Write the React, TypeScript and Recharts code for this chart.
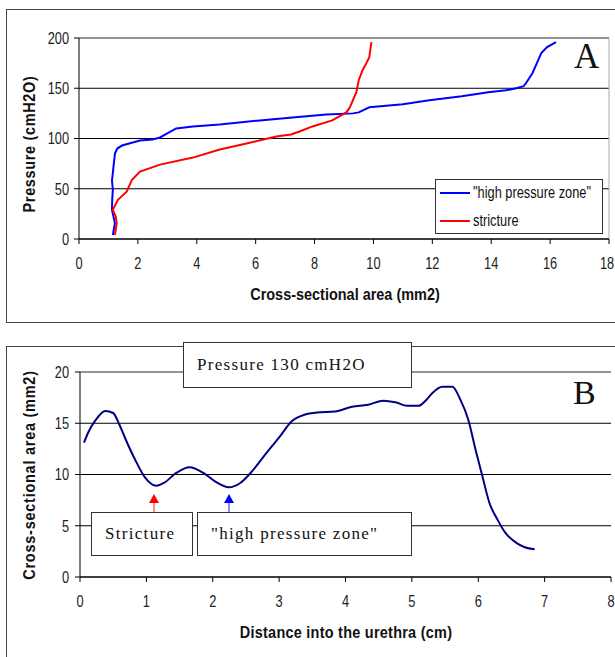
import { LineChart, Line, XAxis, YAxis, CartesianGrid, ReferenceLine } from "recharts";

// Panel A: pressure vs cross-sectional area
const hpzArea = [1.15, 1.22, 1.12, 1.13, 1.15, 1.12, 1.15, 1.22, 1.3, 1.46, 2.07, 2.5, 2.75, 3.0, 3.3, 3.87, 4.78, 6.14, 7.25, 8.4, 9.3, 9.5, 9.86, 11.0, 11.9, 13.0, 13.9, 14.5, 14.85, 15.1, 15.2, 15.4, 15.55, 15.7, 15.9, 16.2];
const hpzPressure = [4, 16, 29, 40, 49, 58, 66, 85, 90, 93, 98, 99, 101, 105, 110, 112, 114, 118, 121, 124, 125, 126, 131, 134, 138, 142, 146, 148, 150, 152, 156, 165, 175, 185, 191, 196];

const strictArea = [1.22, 1.28, 1.25, 1.15, 1.32, 1.62, 1.8, 2.07, 2.75, 3.87, 4.78, 5.69, 6.7, 7.2, 7.49, 7.93, 8.6, 9.08, 9.2, 9.3, 9.42, 9.5, 9.63, 9.76, 9.86, 9.93];
const strictPressure = [4, 16, 22, 29, 39, 47, 59, 67, 74, 81, 89, 95, 102, 104, 107, 112, 118, 126, 131, 138, 146, 158, 168, 175, 181, 196];

// Panel B: area along the urethra at 130 cmH2O
const distance = [0.06, 0.12, 0.24, 0.38, 0.5, 0.59, 0.71, 0.83, 0.97, 1.15, 1.27, 1.45, 1.65, 1.86, 2.04, 2.24, 2.42, 2.57, 2.81, 3.01, 3.19, 3.39, 3.57, 3.84, 4.1, 4.34, 4.57, 4.75, 4.93, 5.1, 5.22, 5.31, 5.46, 5.61, 5.73, 5.85, 5.96, 6.05, 6.17, 6.29, 6.41, 6.58, 6.7, 6.85];
const csArea = [13.1, 14.05, 15.35, 16.2, 16.0, 14.9, 13.1, 11.45, 9.8, 8.9, 9.2, 10.15, 10.7, 10.15, 9.3, 8.75, 9.2, 10.15, 12.1, 13.7, 15.2, 15.85, 16.05, 16.15, 16.6, 16.8, 17.2, 17.05, 16.7, 16.7, 17.3, 17.95, 18.55, 18.55, 17.3, 15.35, 12.4, 10.15, 7.2, 5.6, 4.3, 3.3, 2.9, 2.7];

const aXTicks = [0, 2, 4, 6, 8, 10, 12, 14, 16, 18];
const aYTicks = [0, 50, 100, 150, 200];
const bXTicks = [0, 1, 2, 3, 4, 5, 6, 7, 8];
const bYTicks = [0, 5, 10, 15, 20];

const hpzData = hpzArea.map((a, i) => ({ a, p: hpzPressure[i] }));
const strictData = strictArea.map((a, i) => ({ a, p: strictPressure[i] }));
const profileData = distance.map((d, i) => ({ d, s: csArea[i] }));

const SANS = '"Liberation Sans", Arial, sans-serif';
const SERIF = '"Liberation Serif", "Times New Roman", serif';

const abs = (left: number, top: number, extra: any = {}) => ({ position: "absolute" as const, left, top, ...extra });

// narrow-looking tick text (the original uses a condensed Arial)
function NarrowTick(props: any) {
  const { x, y, payload, textAnchor, vertical } = props;
  return (
    <g transform={`translate(${x},${y})`}>
      <text
        transform="scale(0.8,1)"
        textAnchor={textAnchor}
        dy={vertical ? "0.36em" : "0.71em"}
        fontSize={16}
        fontFamily={SANS}
        fill="#222"
      >
        {payload.value}
      </text>
    </g>
  );
}

function AxisTitle({ x, y, text, rotate, spacing = 0 }: { x: number; y: number; text: string; rotate?: boolean; spacing?: number }) {
  return (
    <div
      style={abs(x, y, {
        transform: `translate(-50%, -50%)${rotate ? " rotate(-90deg)" : ""} scaleX(0.85)`,
        whiteSpace: "nowrap",
        fontFamily: SANS,
        fontWeight: "bold",
        fontSize: 17,
        letterSpacing: spacing,
        color: "#111",
      })}
    >
      {text}
    </div>
  );
}

function Box({ x, y, w, h, text }: { x: number; y: number; w: number; h: number; text: string }) {
  return (
    <div
      style={abs(x, y, {
        width: w,
        height: h,
        boxSizing: "border-box",
        border: "1.5px solid #333",
        background: "#fff",
        fontFamily: SERIF,
        fontSize: 17,
        letterSpacing: 1.3,
        display: "flex",
        alignItems: "center",
        paddingLeft: 13,
        whiteSpace: "nowrap",
        color: "#111",
      })}
    >
      {text}
    </div>
  );
}

function Arrow({ x, color }: { x: number; color: string }) {
  return (
    <svg style={abs(x - 6, 494)} width={12} height={19}>
      <line x1={6} y1={8} x2={6} y2={19} stroke={color} strokeOpacity={0.6} strokeWidth={1.5} />
      <polygon points="6,0 1,9 11,9" fill={color} />
    </svg>
  );
}

export default function App() {
  return (
    <div style={{ position: "fixed", left: 0, top: 0, width: 615, height: 657, overflow: "hidden", background: "#fff" }}>
      {/* panel frames */}
      <div style={abs(6, 9, { width: 620, height: 314, border: "1.5px solid #444", boxSizing: "border-box" })} />
      <div style={abs(6, 346, { width: 620, height: 330, border: "1.5px solid #444", boxSizing: "border-box" })} />

      <div style={abs(0, 0)}>
        <LineChart width={615} height={330} margin={{ top: 38, right: 6, left: 0, bottom: 0 }}>
          <CartesianGrid vertical={false} stroke="#000" strokeWidth={1} />
          <XAxis
            type="number"
            dataKey="a"
            domain={[0, 18]}
            ticks={aXTicks}
            height={91}
            tickSize={5}
            tickMargin={14}
            stroke="#000"
            tick={<NarrowTick />}
          />
          <YAxis
            type="number"
            domain={[0, 200]}
            ticks={aYTicks}
            width={79}
            tickSize={5}
            tickMargin={5}
            stroke="#000"
            tick={<NarrowTick vertical />}
          />
          <ReferenceLine y={200} stroke="#a8a8a8" />
          <ReferenceLine x={18} stroke="#a8a8a8" />
          <Line data={hpzData} dataKey="p" type="linear" stroke="#0000ff" strokeWidth={2} dot={false} isAnimationActive={false} />
          <Line data={strictData} dataKey="p" type="linear" stroke="#ff0000" strokeWidth={2} dot={false} isAnimationActive={false} />
        </LineChart>
      </div>

      <div style={abs(0, 330)}>
        <LineChart width={615} height={327} margin={{ top: 42, right: 4, left: 0, bottom: 0 }}>
          <CartesianGrid vertical={false} stroke="#000" strokeWidth={1} />
          <XAxis
            type="number"
            dataKey="d"
            domain={[0, 8]}
            ticks={bXTicks}
            height={80}
            tickSize={5}
            tickMargin={14}
            stroke="#000"
            tick={<NarrowTick />}
          />
          <YAxis
            type="number"
            domain={[0, 20]}
            ticks={bYTicks}
            width={80}
            tickSize={5}
            tickMargin={6}
            stroke="#000"
            tick={<NarrowTick vertical />}
          />
          <ReferenceLine y={20} stroke="#a8a8a8" />
          <Line data={profileData} dataKey="s" type="monotone" stroke="#000080" strokeWidth={2} dot={false} isAnimationActive={false} />
        </LineChart>
      </div>

      {/* panel A decorations */}
      <AxisTitle x={30} y={144} text="Pressure (cmH2O)" rotate spacing={0.8} />
      <AxisTitle x={345} y={295} text="Cross-sectional area (mm2)" />
      <div style={abs(574, 37, { fontFamily: SERIF, fontSize: 35, color: "#111" })}>A</div>

      <div style={abs(435, 179, { width: 168, height: 55, border: "1.5px solid #333", boxSizing: "border-box", background: "#fff", fontFamily: SANS, fontSize: 16, color: "#111" })}>
        {[
          { label: '"high pressure zone"', color: "#0000ff", top: 4 },
          { label: "stricture", color: "#ff0000", top: 32 },
        ].map((e) => (
          <div key={e.label} style={abs(4, e.top, { display: "flex", alignItems: "center", whiteSpace: "nowrap" })}>
            <div style={{ width: 30, height: 2, background: e.color, marginRight: 3 }} />
            <span style={{ display: "inline-block", transform: "scaleX(0.8)", transformOrigin: "left center" }}>{e.label}</span>
          </div>
        ))}
      </div>

      {/* panel B decorations */}
      <AxisTitle x={30} y={475} text="Cross-sectional area (mm2)" rotate spacing={0.9} />
      <AxisTitle x={346} y={633} text="Distance into the urethra (cm)" spacing={0.3} />
      <div style={abs(573, 374, { fontFamily: SERIF, fontSize: 34, color: "#111" })}>B</div>
      <Box x={183} y={342} w={229} h={46} text="Pressure 130 cmH2O" />
      <Box x={91} y={512} w={102} h={44} text="Stricture" />
      <Box x={197} y={512} w={215} h={44} text={'"high pressure zone"'} />
      <Arrow x={154} color="#ff0000" />
      <Arrow x={229} color="#0000ff" />
    </div>
  );
}
